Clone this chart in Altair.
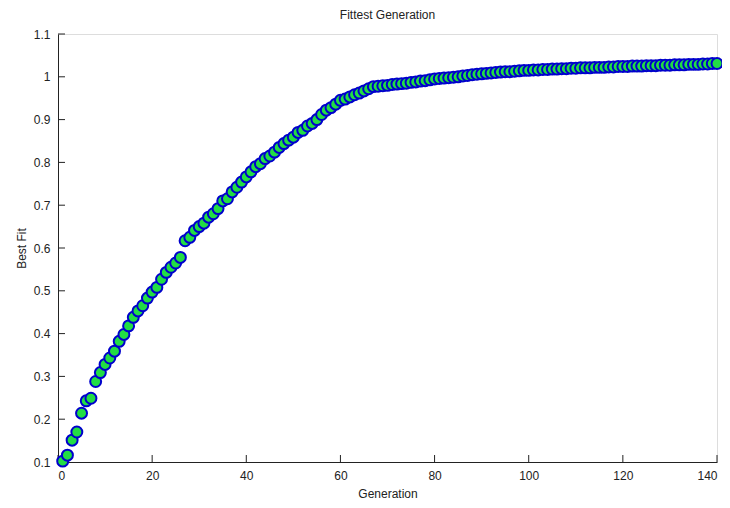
import altair as alt
import pandas as pd

generation = list(range(1, 141))
best_fit = [
    0.102, 0.116, 0.151, 0.170, 0.214, 0.243, 0.249, 0.288, 0.309, 0.328,
    0.343, 0.359, 0.382, 0.398, 0.418, 0.438, 0.453, 0.465, 0.483, 0.497,
    0.508, 0.527, 0.543, 0.555, 0.565, 0.578, 0.617, 0.625, 0.641, 0.650,
    0.658, 0.672, 0.680, 0.692, 0.710, 0.715, 0.731, 0.742, 0.754, 0.766,
    0.778, 0.790, 0.797, 0.809, 0.815, 0.824, 0.835, 0.844, 0.852, 0.859,
    0.870, 0.875, 0.885, 0.891, 0.900, 0.912, 0.922, 0.928, 0.936, 0.945,
    0.948, 0.953, 0.958, 0.962, 0.967, 0.972, 0.977, 0.978, 0.979, 0.980,
    0.982, 0.983, 0.984, 0.985, 0.987, 0.988, 0.990, 0.991, 0.993, 0.995,
    0.996, 0.997, 0.998, 0.999, 1.000, 1.002, 1.003, 1.005, 1.006, 1.007,
    1.008, 1.009, 1.010, 1.011, 1.012, 1.012, 1.013, 1.014, 1.015, 1.015,
    1.016, 1.016, 1.017, 1.017, 1.018, 1.018, 1.019, 1.019, 1.020, 1.020,
    1.021, 1.021, 1.021, 1.022, 1.022, 1.022, 1.023, 1.023, 1.024, 1.024,
    1.024, 1.025, 1.025, 1.025, 1.026, 1.026, 1.026, 1.027, 1.027, 1.027,
    1.028, 1.028, 1.028, 1.029, 1.029, 1.029, 1.030, 1.030, 1.031, 1.031,
]
x_ticks = [0, 20, 40, 60, 80, 100, 120, 140]
y_ticks = [0.1, 0.2, 0.3, 0.4, 0.5, 0.6, 0.7, 0.8, 0.9, 1.0, 1.1]

W, H = 659, 428
FONT = "Liberation Sans"

df = pd.DataFrame({"Generation": generation, "BestFit": best_fit})
xt = pd.DataFrame({"t": x_ticks})
yt = pd.DataFrame({"t": y_ticks})

xscale = alt.Scale(domain=[0, 140], nice=False, zero=False)
yscale = alt.Scale(domain=[0.1, 1.1], nice=False, zero=False)

points = alt.Chart(df).mark_point(
    shape="circle", filled=False, fill="#22dd44", fillOpacity=1,
    stroke="#0000cc", strokeWidth=2, size=120, opacity=1
).encode(
    x=alt.X("Generation:Q", scale=xscale,
            axis=alt.Axis(values=x_ticks, format="d", title="Generation",
                          grid=False, tickSize=0, labelPadding=8,
                          domainColor="#222222", labelColor="#222222",
                          titleColor="#222222", titleFontWeight="normal",
                          labelFont=FONT, titleFont=FONT, labelFontSize=12,
                          titleFontSize=12, titlePadding=7)),
    y=alt.Y("BestFit:Q", scale=yscale,
            axis=alt.Axis(values=y_ticks, format="~g", title="Best Fit",
                          grid=False, tickSize=0, labelPadding=8,
                          domainColor="#222222", labelColor="#222222",
                          titleColor="#222222", titleFontWeight="normal",
                          labelFont=FONT, titleFont=FONT, labelFontSize=12,
                          titleFontSize=12, titlePadding=5)),
)

xtick_rules = alt.Chart(xt).mark_rule(color="#222222", strokeWidth=1).encode(
    x=alt.X("t:Q", scale=xscale),
    y=alt.value(H),
    y2=alt.value(H - 7),
)
ytick_rules = alt.Chart(yt).mark_rule(color="#222222", strokeWidth=1).encode(
    y=alt.Y("t:Q", scale=yscale),
    x=alt.value(0),
    x2=alt.value(7),
)

chart = alt.layer(xtick_rules, ytick_rules, points).properties(
    width=W, height=H,
    title=alt.TitleParams("Fittest Generation", font=FONT, fontSize=12,
                          fontWeight="normal", color="#222222", offset=6),
    autosize=alt.AutoSizeParams(type="none"),
    padding={"left": 50, "top": 26, "right": 5, "bottom": 40},
).configure_view(stroke=None).configure(background="white")

chart.save("out.html", embed_options={"renderer": "svg", "actions": False})
